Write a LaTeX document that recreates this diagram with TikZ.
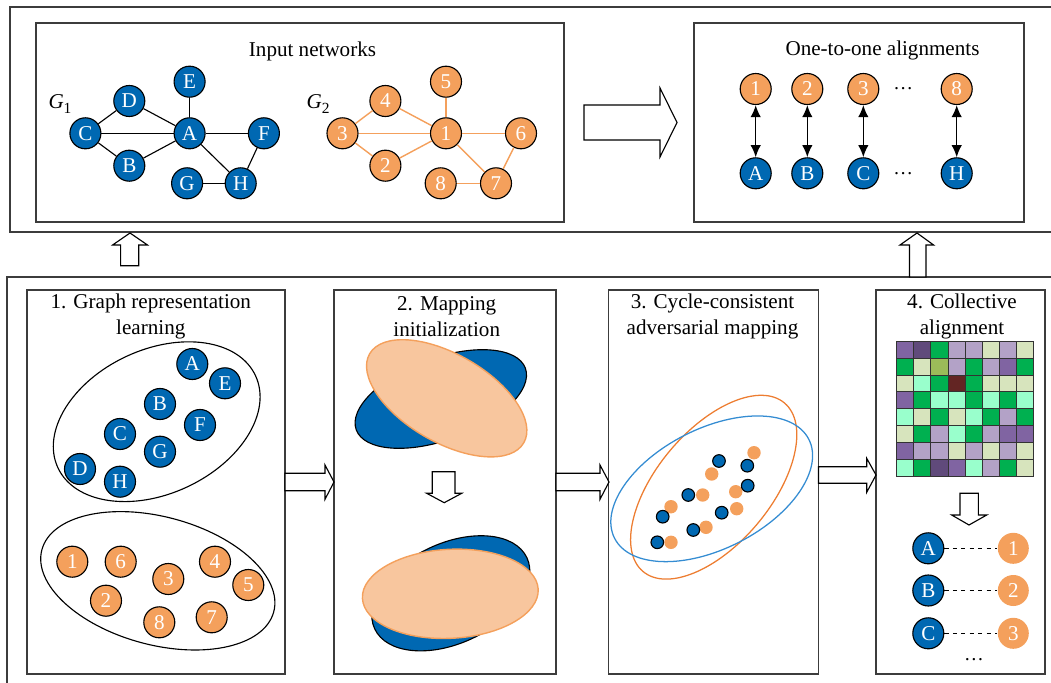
\documentclass[tikz,border=0pt]{standalone}
\usepackage{fontspec}
\setmainfont{Liberation Serif}
\usetikzlibrary{positioning,calc,arrows.meta}
\definecolor{nodeblue}{RGB}{0,104,178}
\definecolor{nodeorange}{RGB}{244,160,92}
\definecolor{peach}{RGB}{248,198,158}
\definecolor{ringorange}{RGB}{237,125,49}
\definecolor{ringblue}{RGB}{52,140,210}
\definecolor{framegray}{RGB}{60,60,60}
\definecolor{mP}{RGB}{128,100,162}
\definecolor{mD}{RGB}{96,74,123}
\definecolor{mG}{RGB}{0,176,80}
\definecolor{mL}{RGB}{179,162,199}
\definecolor{mY}{RGB}{215,228,189}
\definecolor{mM}{RGB}{153,255,204}
\definecolor{mO}{RGB}{155,187,89}
\definecolor{mR}{RGB}{99,37,35}

\tikzset{
  bnode/.style={circle, draw=black, line width=0.8pt, fill=nodeblue, text=white,
    minimum size=0.775cm, inner sep=0pt, font=\fontsize{15}{15}\selectfont},
  onode/.style={bnode, fill=nodeorange},
  title/.style={align=center, font=\fontsize{15}{18.5}\selectfont},
  panel/.style={draw=framegray, line width=0.9pt},
  hollow/.style={draw=black, fill=white, line width=0.8pt},
  oedge/.style={draw=nodeorange, line width=1pt},
  bedge/.style={draw=black, line width=0.8pt},
  tip/.style={{Latex[length=3mm,width=2.6mm]}-{Latex[length=3mm,width=2.6mm]}, line width=1.1pt}
}

\begin{document}
\begin{tikzpicture}[x=0.025cm, y=-0.025cm]
      \useasboundingbox (0,0) rectangle (1051,683);

      % frames
      \draw[panel] (1051,7) -- (10,7) -- (10,232) -- (1051,232);
      \draw[panel] (1051,277) -- (7,277) -- (7,683);
      \draw[panel] (36,23) rectangle (564,222);
      \draw[panel] (694,23) rectangle (1024,222);
      \draw[panel] (27,290) rectangle (285,674);
      \draw[panel] (334,290) rectangle (556,674);
      \draw[panel] (608.5,290) rectangle (818.5,674);
      \draw[panel] (876,290) rectangle (1045,674);

      % hollow arrows
      \draw[hollow] (584,105) -- (660,105) -- (660,88) -- (677,122.5) -- (660,157) -- (660,140) -- (584,140) -- cycle;
      \draw[hollow] (120.6,265.7) -- (120.6,245) -- (112.6,245) -- (130,233) -- (147.5,245) -- (138.7,245) -- (138.7,265.7) -- cycle;
      \draw[hollow] (909.5,277) -- (909.5,245) -- (900,245) -- (917,233) -- (933.6,245) -- (926,245) -- (926,277) -- cycle;
      \draw[hollow] (285,473.3) -- (325,473.3) -- (325,465) -- (334,482) -- (325,499.3) -- (325,490.7) -- (285,490.7) -- cycle;
      \draw[hollow] (556,473.3) -- (600,473.3) -- (600,465) -- (609,482) -- (600,499.3) -- (600,490.7) -- (556,490.7) -- cycle;
      \draw[hollow] (818.5,466.7) -- (866.7,466.7) -- (866.7,458.3) -- (876,475) -- (866.7,492.3) -- (866.7,483.3) -- (818.5,483.3) -- cycle;
      \draw[hollow] (432.3,471.7) -- (455,471.7) -- (455,493.3) -- (461.7,493.3) -- (444.2,502.7) -- (426.7,493.3) -- (432.3,493.3) -- cycle;
      \draw[hollow] (960,493.3) -- (978.3,493.3) -- (978.3,515) -- (986.7,515) -- (969,525) -- (951.7,515) -- (960,515) -- cycle;

      % input networks
      \node[title] (tinput) at (312.5,51) {Input networks};
      \node[font=\fontsize{15}{15}\selectfont] (lgone) at (60,104) {\textit{G}\raisebox{-0.45ex}{\fontsize{11}{11}\selectfont 1}};
      \node[font=\fontsize{15}{15}\selectfont] (lgtwo) at (318,104) {\textit{G}\raisebox{-0.45ex}{\fontsize{11}{11}\selectfont 2}};

      \node[bnode] (ga) at (189.6,133.3) {A};
      \node[bnode] (gb) at (129.3,165.7) {B};
      \node[bnode] (gc) at (85.4,133.3) {C};
      \node[bnode] (gd) at (129.3,101) {D};
      \node[bnode] (ge) at (189.6,81.7) {E};
      \node[bnode] (gf) at (263.9,133.3) {F};
      \node[bnode] (gg) at (187.1,183.3) {G};
      \node[bnode] (gh) at (240.7,183.3) {H};
      \foreach \u/\v in {gc/gd, gc/ga, gc/gb, gd/ga, ge/ga, ga/gf, ga/gb, ga/gh, gf/gh, gg/gh}
        \draw[bedge] (\u) -- (\v);

      \node[onode] (g1) at (446,133.3) {1};
      \node[onode] (g2) at (385.4,165.7) {2};
      \node[onode] (g3) at (342.5,133.3) {3};
      \node[onode] (g4) at (385.4,101) {4};
      \node[onode] (g5) at (446,81.7) {5};
      \node[onode] (g6) at (521,133.3) {6};
      \node[onode] (g7) at (496,183.3) {7};
      \node[onode] (g8) at (440.7,183.3) {8};
      \foreach \u/\v in {g3/g4, g3/g1, g3/g2, g4/g1, g5/g1, g1/g6, g1/g2, g1/g7, g6/g7, g8/g7}
        \draw[oedge] (\u) -- (\v);

      % one-to-one alignments
      \node[title] (toutput) at (882.5,50) {One-to-one alignments};
      \foreach \o/\b/\x in {1/A/755.7, 2/B/807.3, 3/C/863.3, 8/H/956.7} {
        \node[onode] (al\o) at (\x,89) {\o};
        \node[bnode] (al\b) at (\x,173.3) {\b};
        \draw[tip] (al\o) -- (al\b);
      }
      \node[font=\fontsize{14}{14}\selectfont] (aldotsup) at (903.3,89) {\dots};
      \node[font=\fontsize{14}{14}\selectfont] (aldotsdown) at (903.3,173.3) {\dots};

      % 1. graph representation learning
      \node[title] (tone) at (150.8,316.3) {1. Graph representation\\learning};
      \draw[bedge, rotate around={25:(156.7,421.7)}] (156.7,421.7) ellipse (109 and 72);
      \draw[bedge, rotate around={-15:(157.8,580.8)}] (157.8,580.8) ellipse (120 and 64);
      \foreach \n/\x/\y in {A/192.3/364, E/225/383.3, B/160/404, F/200/425, C/120/434, G/160/451.7, D/80/469, H/120/481.7}
        \node[bnode] (e\n) at (\x,\y) {\n};
      \foreach \n/\x/\y in {1/72.3/561.7, 6/120.7/561.7, 3/168.3/579, 4/215/561.7, 5/248.3/585, 2/106/600.7, 8/159.3/622.3, 7/211.7/617.3}
        \node[onode] (e\n) at (\x,\y) {\n};

      % 2. mapping initialization
      \node[title] (ttwo) at (446.7,316.3) {2. Mapping\\initialization};
      \draw[fill=nodeblue, bedge, rotate around={20:(440.8,399)}] (440.8,399) ellipse (90 and 41);
      \draw[fill=peach, oedge, rotate around={-30:(446.7,398.3)}] (446.7,398.3) ellipse (89 and 44);
      \draw[fill=nodeblue, bedge, rotate around={25:(450.8,593.3)}] (450.8,593.3) ellipse (84 and 50);
      \draw[fill=peach, oedge, rotate around={3:(450.3,593.8)}] (450.3,593.8) ellipse (88 and 44.5);

      % 3. cycle-consistent adversarial mapping
      \node[title] (tthree) at (712.5,316.3) {3. Cycle-consistent\\adversarial mapping};
      \draw[draw=ringorange, line width=0.9pt, rotate around={50:(713.7,487.2)}] (713.7,487.2) ellipse (110 and 57);
      \draw[draw=ringblue, line width=0.9pt, rotate around={27:(711.7,488.8)}] (711.7,488.8) ellipse (109 and 60);
      \foreach \x/\y in {754/452.7, 711.7/474, 735.7/491.7, 702.7/495, 736.7/508.7, 671/506.7, 706/527.3, 671/542.3}
        \fill[nodeorange] (\x,\y) circle (6.7);
      \foreach \x/\y in {719/461, 747.3/465.7, 747.7/485.7, 688.3/495, 721.7/512.7, 662.7/516.7, 693.3/530, 657.3/542.3}
        \draw[fill=nodeblue, bedge] (\x,\y) circle (6.3);

      % 4. collective alignment
      \node[title] (tfour) at (962,316.3) {4. Collective\\alignment};
      \foreach \row [count=\r] in {{mP,mD,mG,mL,mL,mY,mL,mY},{mG,mY,mO,mL,mG,mL,mP,mG},
          {mY,mM,mG,mR,mG,mY,mY,mY},{mP,mG,mM,mM,mG,mM,mG,mM},{mM,mY,mG,mY,mM,mG,mL,mG},
          {mY,mG,mL,mM,mG,mL,mP,mP},{mP,mL,mL,mY,mL,mY,mL,mY},{mM,mG,mD,mP,mM,mL,mG,mY}}
        \foreach \c [count=\k] in \row
          \draw[fill=\c, draw=black!80, line width=0.6pt] ({896.7+(\k-1)*17.07},{341+(\r-1)*16.96}) rectangle ++(17.07,16.96);
      \foreach \b/\o/\y in {A/1/548.3, B/2/590.5, C/3/633.3} {
        \node[bnode] (p\b) at (928.3,\y) {\b};
        \node[onode, draw=none] (p\o) at (1013.3,\y) {\o};
        \draw[dashed, line width=0.7pt] (p\b) -- (p\o);
      }
      \node[font=\fontsize{14}{14}\selectfont] (pdots) at (974,660) {\dots};
\end{tikzpicture}
\end{document}
